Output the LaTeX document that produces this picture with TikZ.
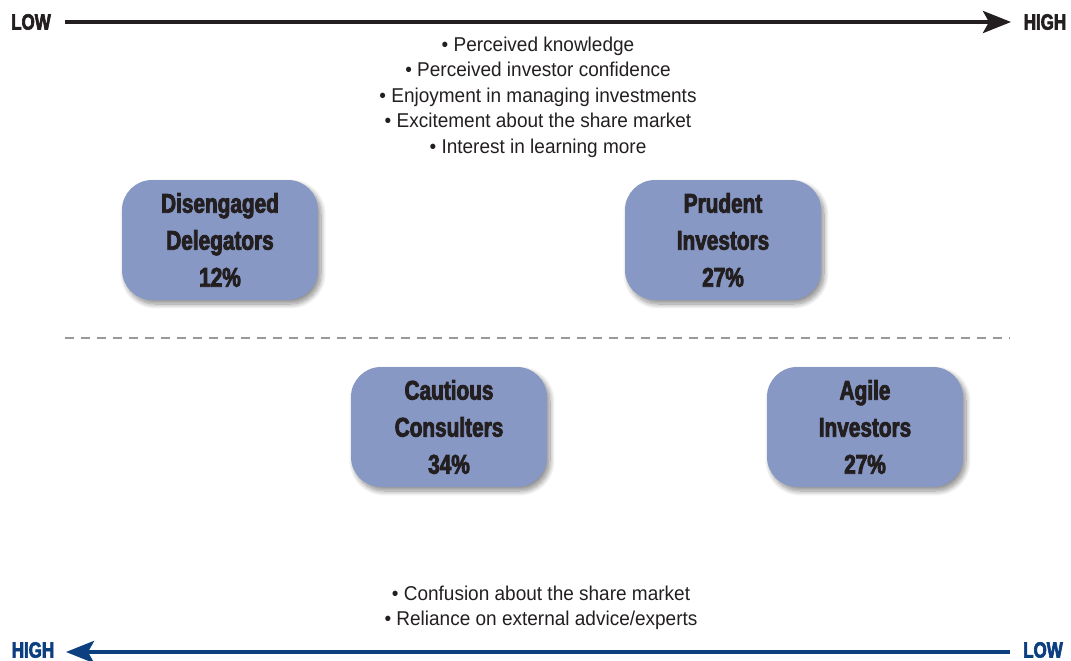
\documentclass[tikz,border=0pt]{standalone}
\usepackage{fontspec}
\setmainfont{Liberation Sans}
\newfontfamily\heavy[FakeStretch=0.77,FakeBold=3]{Liberation Sans Bold}
\newfontfamily\light[FakeStretch=0.95]{Liberation Sans}
\usetikzlibrary{arrows.meta,shadows.blur}
\definecolor{boxfill}{HTML}{8898C4}
\definecolor{navy}{HTML}{0C3F80}
\definecolor{ink}{HTML}{231F20}
\begin{document}
\begin{tikzpicture}[x=1pt,y=-1pt,
  seg/.style={draw=none, fill=boxfill, rounded corners=30pt, minimum width=196pt, minimum height=120pt,
    align=center, text=ink, font=\heavy\fontsize{27}{37}\selectfont,
    blur shadow={shadow blur steps=10, shadow xshift=3pt, shadow yshift=-4pt, shadow opacity=45, shadow blur radius=5pt}},
  axislabel/.style={font=\heavy\fontsize{22}{24}\selectfont, inner sep=0pt},
  bullets/.style={align=center, text=ink, font=\light\fontsize{20}{25.5}\selectfont, inner sep=0pt},
  axisline/.style={line width=4pt}
]
\useasboundingbox (0,0) rectangle (1071,661);
% top axis
\node[axislabel, text=ink] (lowT) at (31,22) {LOW};
\node[axislabel, text=ink] (highT) at (1045,22) {HIGH};
\coordinate (tS) at (65,22);
\coordinate (tE) at (1011,22);
\draw[axisline, draw=ink, -{Stealth[length=28pt,width=22pt,inset=6pt]}] (tS) -- (tE);
% bottom axis
\node[axislabel, text=navy] (highB) at (33,650) {HIGH};
\node[axislabel, text=navy] (lowB) at (1043,650) {LOW};
\coordinate (bS) at (1010,652);
\coordinate (bE) at (66,652);
\draw[axisline, draw=navy, -{Stealth[length=28pt,width=22pt,inset=6pt]}] (bS) -- (bE);
% dashed divider
\coordinate (dS) at (65,338);
\coordinate (dE) at (1010,338);
\draw[line width=2pt, draw=gray!80, dash pattern=on 9pt off 7pt] (dS) -- (dE);
% top bullets
\node[bullets] (topb) at (538,97) {• Perceived knowledge\\ • Perceived investor confidence\\ • Enjoyment in managing investments\\ • Excitement about the share market\\ • Interest in learning more};
% bottom bullets
\node[bullets] (botb) at (541,608) {• Confusion about the share market\\ • Reliance on external advice/experts};
% segment boxes
\node[seg] (dd) at (220,240) {Disengaged\\Delegators\\12\%};
\node[seg] (pi) at (723,240) {Prudent\\Investors\\27\%};
\node[seg] (cc) at (449,427) {Cautious\\Consulters\\34\%};
\node[seg] (ai) at (865,427) {Agile\\Investors\\27\%};
\end{tikzpicture}
\end{document}
